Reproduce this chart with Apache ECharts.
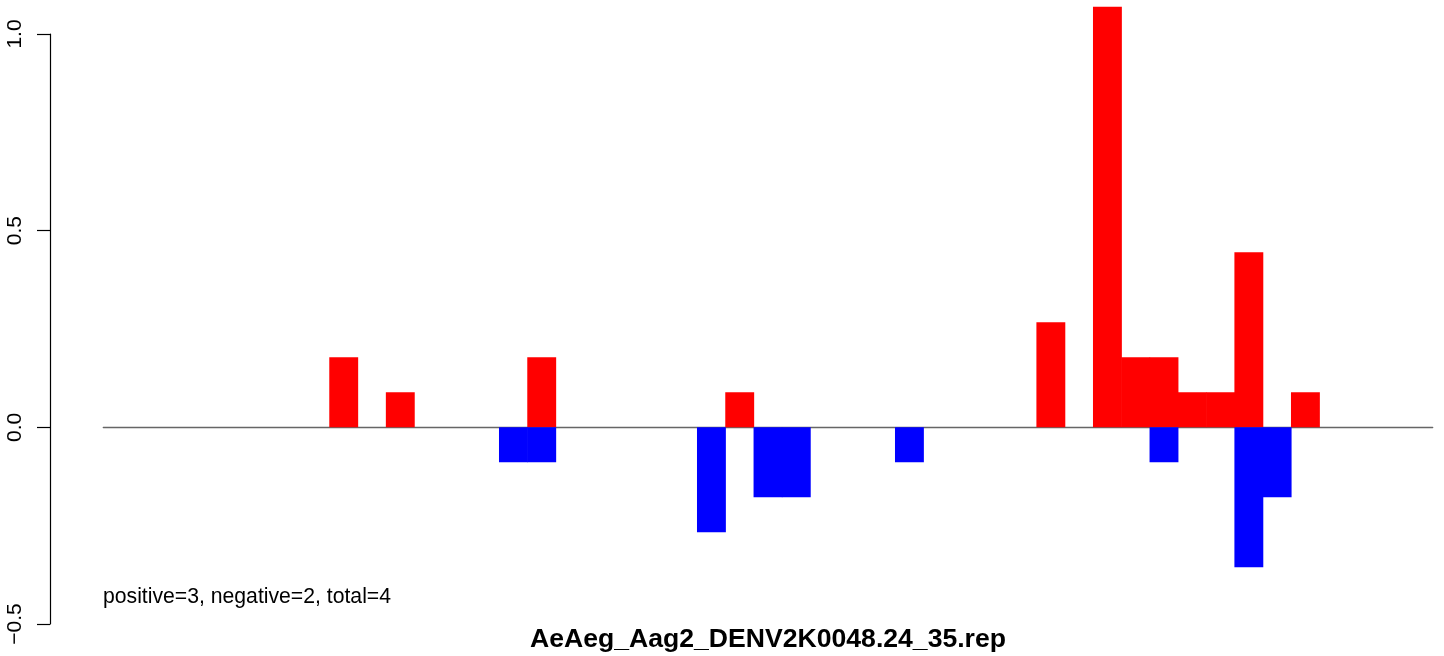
<!DOCTYPE html>
<html>
<head>
<meta charset="utf-8">
<script src="https://cdn.jsdelivr.net/npm/echarts@6/dist/echarts.min.js"></script>
<style>
html,body{margin:0;padding:0;background:#fff;}
#chart{width:1444px;height:656px;}
</style>
</head>
<body>
<div id="chart"></div>
<script>
// Positions (bins) along the sequence
const positions = [1,2,3,4,5,6,7,8,9,10,11,12,13,14,15,16,17,18,19,20,21,22,23,24,25,26,27,28,29,30,31,32,33,34,35,36,37,38,39,40,41,42,43,44,45,46,47];
// positive-strand values (red)
const positiveValues = [0,0,0,0,0,0,0,0,0.178,0,0.089,0,0,0,0,0.178,0,0,0,0,0,0,0.089,0,0,0,0,0,0,0,0,0,0,0.267,0,1.069,0.178,0.178,0.089,0.089,0.445,0,0.089,0,0,0,0];
// negative-strand values (blue)
const negativeValues = [0,0,0,0,0,0,0,0,0,0,0,0,0,0,-0.089,-0.089,0,0,0,0,0,-0.267,0,-0.178,-0.178,0,0,0,-0.089,0,0,0,0,0,0,0,0,-0.089,0,0,-0.356,-0.178,0,0,0,0,0];
const yTickValues = [-0.5, 0, 0.5, 1.0];
const yTickLabels = ['\u22120.5', '0.0', '0.5', '1.0'];
const chartTitle = 'AeAeg_Aag2_DENV2K0048.24_35.rep';
const summaryText = 'positive=3, negative=2, total=4';

const FONT = '"Liberation Sans", Arial, Helvetica, sans-serif';
const chart = echarts.init(document.getElementById('chart'), null, {renderer: 'canvas'});
const gridLeft = 103.3, gridRight = 11.3;

function toBarData(values) {
  const out = [];
  values.forEach(function (v, i) { if (v !== 0) out.push([i, v]); });
  return out;
}
function makeRenderer(color) {
  return function (params, api) {
    const i = api.value(0), v = api.value(1);
    const p0 = api.coord([i, 0]);
    const p1 = api.coord([i, v]);
    const w = api.size([1, 0])[0];
    return {
      type: 'rect',
      shape: {x: p0[0] - w / 2 - 0.3, y: Math.min(p0[1], p1[1]), width: w + 0.6, height: Math.abs(p1[1] - p0[1])},
      style: {fill: color}
    };
  };
}

chart.setOption({
  animation: false,
  backgroundColor: '#ffffff',
  grid: {left: gridLeft, right: gridRight, top: 34, bottom: 32, containLabel: false, outerBoundsMode: 'none'},
  xAxis: {
    type: 'category',
    data: positions,
    boundaryGap: true,
    axisLine: {show: true, onZero: true, lineStyle: {color: '#666666', width: 1.3}},
    axisTick: {show: false},
    axisLabel: {show: false},
    splitLine: {show: false}
  },
  yAxis: {
    type: 'value',
    min: -0.5, max: 1.0, interval: 0.5,
    offset: gridLeft - 50,
    axisLine: {show: true, lineStyle: {color: '#000', width: 1.2}},
    axisTick: {show: true, length: 13, lineStyle: {color: '#000', width: 1.2}},
    splitLine: {show: false},
    axisLabel: {
      rotate: 90,
      margin: 24,
      fontSize: 21,
      fontFamily: FONT,
      color: '#000',
      formatter: function (v) {
        for (let i = 0; i < yTickValues.length; i++) {
          if (Math.abs(yTickValues[i] - v) < 1e-9) return yTickLabels[i];
        }
        return '';
      }
    }
  },
  series: [
    {type: 'custom', name: 'positive', data: toBarData(positiveValues), renderItem: makeRenderer('#ff0000'), clip: false, z: 3},
    {type: 'custom', name: 'negative', data: toBarData(negativeValues), renderItem: makeRenderer('#0000ff'), clip: false, z: 3}
  ],
  graphic: [
    {type: 'text', left: 103, top: 587, style: {text: summaryText, font: '21.2px ' + FONT, fill: '#000'}},
    {type: 'text', x: 768, y: 640, style: {text: chartTitle, font: 'bold 26.6px ' + FONT, fill: '#000', textAlign: 'center', textVerticalAlign: 'middle'}}
  ]
});
</script>
</body>
</html>
